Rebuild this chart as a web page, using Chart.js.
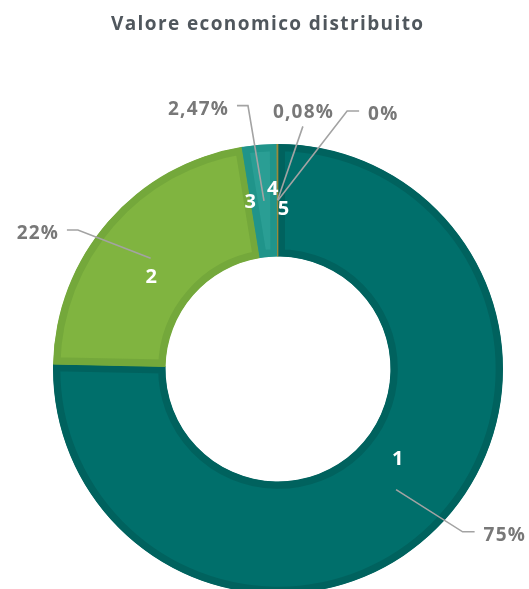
<!DOCTYPE html>
<html>
<head>
<meta charset="utf-8">
<script src="https://cdn.jsdelivr.net/npm/chart.js@4.4.1/dist/chart.umd.min.js"></script>
<style>
  html, body { margin: 0; padding: 0; background: #ffffff; overflow: hidden; }
  #wrap { position: relative; width: 529px; height: 600px; }
</style>
</head>
<body>
<div id="wrap"><canvas id="c" width="529" height="600"></canvas></div>
<script>
// ---- data ----
const chartTitle = "Valore economico distribuito";
const categories = ["1", "2", "3", "4", "5"];
const values = [75, 22, 2.47, 0.08, 0];
const percentLabels = ["75%", "22%", "2,47%", "0,08%", "0%"];

// ---- styles ----
const fillColors = ["#006f6b", "#80b440", "#2a9e94", "#a89a45", "#6d6d6d"];
const borderColors = ["#00625e", "#74a83b", "#20948a", "#9a8a3a", "#5d5d5d"];
const labelFont = "bold 19px 'Open Sans', sans-serif";
const numberFont = "bold 20px 'Open Sans', sans-serif";
const titleFont = "bold 19px 'Open Sans', sans-serif";

// ---- annotation layout (angle offsets in degrees, radii as fraction of outer radius) ----
const numberAngleOffset = [-8.6, -5.2, -4.75, -1.5, 2.0];
const numberRadius = [0.667, 0.695, 0.75, 0.80, 0.711];
const leaderAngleOffset = [-4.2, -6.2, -1.75, 6, 15];
const leaderRadius = [1.094, 1.083, 1.178, 1.084, 1.187];
const leaderSide = ["right", "left", "left", "up", "right"];

const deg = Math.PI / 180;

function spacedText(ctx, text, x, y, spacing) {
  if ("letterSpacing" in ctx) {
    ctx.letterSpacing = spacing + "px";
    let dx = 0;
    if (ctx.textAlign === "center") dx = spacing / 2;
    else if (ctx.textAlign === "right") dx = spacing;
    ctx.fillText(text, x + dx, y);
    ctx.letterSpacing = "0px";
  } else {
    ctx.fillText(text, x, y);
  }
}

const labelPlugin = {
  id: "labelPlugin",
  afterDatasetsDraw(chart) {
    const ctx = chart.ctx;
    const meta = chart.getDatasetMeta(0);
    ctx.save();
    // leader lines + percentages
    meta.data.forEach((arc, i) => {
      const p = arc.getProps(["x", "y", "startAngle", "endAngle", "innerRadius", "outerRadius"], true);
      const mid = (p.startAngle + p.endAngle) / 2;
      const ar = (p.innerRadius + p.outerRadius) / 2;
      const ax = p.x + Math.cos(mid) * ar;
      const ay = p.y + Math.sin(mid) * ar;
      const ea = mid + leaderAngleOffset[i] * deg;
      const er = p.outerRadius * leaderRadius[i];
      const ex = p.x + Math.cos(ea) * er;
      const ey = p.y + Math.sin(ea) * er;
      ctx.strokeStyle = "#a3a3a3";
      ctx.lineWidth = 1.6;
      ctx.beginPath();
      ctx.moveTo(ax, ay);
      ctx.lineTo(ex, ey);
      let tx = ex, ty = ey + 3.5;
      ctx.font = labelFont;
      ctx.fillStyle = "#787878";
      ctx.textBaseline = "middle";
      if (leaderSide[i] === "right") {
        ctx.lineTo(ex + 12, ey);
        tx = ex + 21;
        ctx.textAlign = "left";
      } else if (leaderSide[i] === "left") {
        ctx.lineTo(ex - 11, ey);
        tx = ex - 20;
        ctx.textAlign = "right";
      } else {
        ctx.textAlign = "center";
        ty = ey - 14;
      }
      ctx.stroke();
      spacedText(ctx, percentLabels[i], tx, ty, 1.2);
    });
    // category numbers
    meta.data.forEach((arc, i) => {
      const p = arc.getProps(["x", "y", "startAngle", "endAngle", "outerRadius"], true);
      const mid = (p.startAngle + p.endAngle) / 2 + numberAngleOffset[i] * deg;
      const r = p.outerRadius * numberRadius[i];
      ctx.font = numberFont;
      ctx.fillStyle = "#ffffff";
      ctx.textAlign = "center";
      ctx.textBaseline = "middle";
      ctx.fillText(categories[i], p.x + Math.cos(mid) * r, p.y + Math.sin(mid) * r);
    });
    // title
    ctx.font = titleFont;
    ctx.fillStyle = "#50575d";
    ctx.textAlign = "center";
    ctx.textBaseline = "middle";
    spacedText(ctx, chartTitle, 267, 25, 1.4);
    ctx.restore();
  }
};

new Chart(document.getElementById("c"), {
  type: "doughnut",
  data: {
    labels: categories,
    datasets: [{
      data: values,
      backgroundColor: fillColors,
      borderColor: borderColors,
      borderWidth: 7,
      borderAlign: "inner",
      hoverOffset: 0,
      offset: 0
    }]
  },
  options: {
    responsive: false,
    animation: false,
    events: [],
    cutout: "50%",
    layout: { padding: { top: 144, left: 53, right: 26, bottom: 6 } },
    plugins: {
      legend: { display: false },
      tooltip: { enabled: false },
      title: { display: false }
    }
  },
  plugins: [labelPlugin]
});
</script>
</body>
</html>
